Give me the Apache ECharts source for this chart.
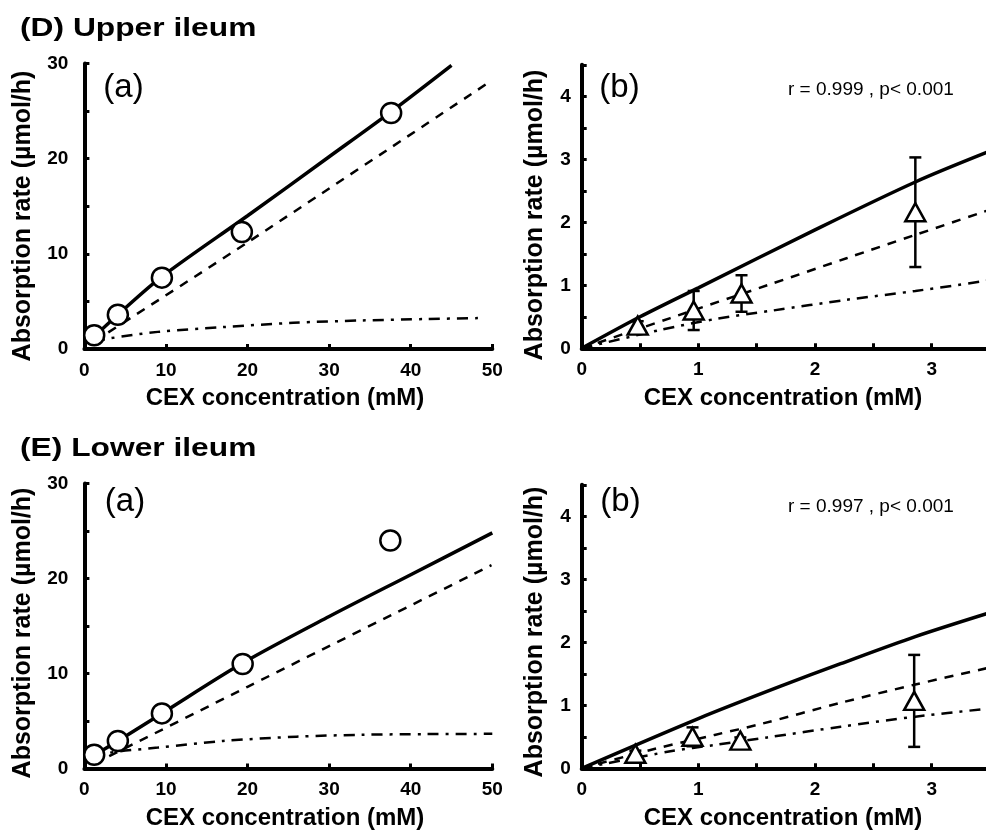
<!DOCTYPE html>
<html>
<head>
<meta charset="utf-8">
<script src="https://cdn.jsdelivr.net/npm/echarts@6/dist/echarts.min.js"></script>
<style>
html,body{margin:0;padding:0;background:#fff;}
#c{width:986px;height:836px;}
</style>
</head>
<body>
<div id="c"></div>
<script>
// ---------- DATA ----------
const titleD = '(D) Upper ileum';
const titleE = '(E) Lower ileum';
const yName = 'Absorption rate (µmol/h)';
const xName = 'CEX concentration (mM)';
const statD = 'r = 0.999 , p< 0.001';
const statE = 'r = 0.997 , p< 0.001';

// (D)(a) upper ileum, full range
const dA_x = [1.2, 4.1, 9.5, 19.3, 37.6];
const dA_y = [1.45, 3.6, 7.5, 12.3, 24.8];
const dA_solid = [[1.2,1.3],[4.1,3.6],[9.5,7.6],[20,14.0],[30,20.2],[37.7,25.0],[45,29.8]];
const dA_dashed = [[1.2,0.8],[20,11.2],[49.2,27.8]];
const dA_dashdot = [[1.2,0.7],[3,1.1],[9,1.8],[17,2.3],[25.6,2.75],[34,3.0],[42,3.15],[48.3,3.25]];

// (D)(b) upper ileum, low range
const dB_x = [0.48, 0.96, 1.37, 2.86];
const dB_y = [0.36, 0.6, 0.87, 2.16];
const dB_err = [0.07, 0.31, 0.29, 0.87];
const dB_solid = [[0,0],[0.5,0.5],[1,0.96],[2,1.88],[2.86,2.64],[3.5,3.13]];
const dB_dashed = [[0,0],[0.76,0.48],[1.59,1.0],[2.27,1.43],[2.86,1.8],[3.5,2.2]];
const dB_dashdot = [[0,0],[0.67,0.29],[1.16,0.47],[1.64,0.6],[2.27,0.77],[2.86,0.91],[3.5,1.08]];

// (E)(a) lower ileum, full range
const eA_x = [1.2, 4.1, 9.5, 19.4, 37.5];
const eA_y = [1.45, 2.9, 5.8, 11.0, 24.0];
const eA_solid = [[1.2,1.4],[4.1,2.9],[9.5,5.8],[19.4,11.1],[30,16.0],[40,20.4],[50,24.8]];
const eA_dashed = [[1.2,0.5],[20,8.6],[49.9,21.4]];
const eA_dashdot = [[1.2,0.9],[2.7,1.6],[9,2.2],[17,2.9],[26,3.35],[34,3.55],[42,3.62],[50,3.65]];

// (E)(b) lower ileum, low range
const eB_x = [0.46, 0.95, 1.36, 2.85];
const eB_y = [0.23, 0.5, 0.44, 1.07];
const eB_err = [0.05, 0.15, 0.05, 0.73];
const eB_solid = [[0,0],[1,0.79],[1.7,1.3],[2.22,1.66],[2.86,2.09],[3.5,2.47]];
const eB_dashed = [[0,0],[0.63,0.31],[1.14,0.53],[1.55,0.71],[2.22,1.04],[2.86,1.33],[3.5,1.6]];
const eB_dashdot = [[0,0],[0.76,0.27],[1.14,0.37],[1.59,0.49],[2.22,0.66],[2.86,0.82],[3.5,0.95]];

// axis ranges / ticks
const xA = {min:0, max:50, interval:10};
const yA = {min:0, max:30, interval:5, labelStep:10};
const xB = {min:0, max:3.5, interval:0.5, labelStep:1};
const yB = {min:0, max:4.5, interval:0.5, labelStep:1};

// ---------- CHART ----------
const FONT = '"Liberation Sans", Arial, Helvetica, sans-serif';
const chart = echarts.init(document.getElementById('c'), null, {renderer:'canvas'});

const grids = [
  {left:84.4, top:63.5, width:407.9, height:285.5},
  {left:581.7, top:64.8, width:408.3, height:283.5},
  {left:84.4, top:483.5, width:407.9, height:285.0},
  {left:581.7, top:484.8, width:408.3, height:283.5}
].map(g => Object.assign({show:false, containLabel:false, outerBoundsMode:'none'}, g));

function stepFmt(step){
  return function(v){
    const r = v/step;
    return Math.abs(r-Math.round(r))<1e-6 ? String(Math.round(v*1000)/1000) : '';
  };
}
function axisCommon(cfg, margin){
  return {
    type:'value', min:cfg.min, max:cfg.max, interval:cfg.interval,
    splitLine:{show:false},
    axisLine:{show:true, onZero:false, lineStyle:{color:'#000', width:4}},
    axisTick:{show:true, inside:true, length:5, lineStyle:{color:'#000', width:3}},
    axisLabel:{
      show:true, margin:margin, color:'#000', fontFamily:FONT, fontWeight:'bold', fontSize:19,
      showMinLabel:true, showMaxLabel:true,
      formatter: cfg.labelStep ? stepFmt(cfg.labelStep) : (v=>String(v))
    }
  };
}
const xAxes = [
  Object.assign(axisCommon(xA,12),{gridIndex:0}),
  Object.assign(axisCommon(xB,12),{gridIndex:1}),
  Object.assign(axisCommon(xA,12),{gridIndex:2}),
  Object.assign(axisCommon(xB,12),{gridIndex:3})
];
const yAxes = [
  Object.assign(axisCommon(yA,16),{gridIndex:0}),
  Object.assign(axisCommon(yB,11),{gridIndex:1}),
  Object.assign(axisCommon(yA,16),{gridIndex:2}),
  Object.assign(axisCommon(yB,11),{gridIndex:3})
];

const solidStyle = {color:'#000', width:3.5, type:'solid'};
const dashedStyle = {color:'#000', width:2.5, type:[9,8]};
const dashdotStyle = {color:'#000', width:2.5, type:[11,7,3,7]};

function lineSeries(data, style, idx){
  return {type:'line', data:data, xAxisIndex:idx, yAxisIndex:idx, showSymbol:false, symbol:'none',
    smooth:0.3, lineStyle:style, z:2, silent:true, animation:false};
}
function zip(xs, ys){ return xs.map((x,i)=>[x, ys[i]]); }
function zip3(xs, ys, es){ return xs.map((x,i)=>[x, ys[i], es[i]]); }

function circleSeries(xs, ys, idx){
  return {type:'scatter', data:zip(xs,ys), xAxisIndex:idx, yAxisIndex:idx, symbol:'circle', symbolSize:20,
    itemStyle:{color:'#fff', borderColor:'#000', borderWidth:2.5, opacity:1}, z:5, animation:false};
}
function triSeries(xs, ys, idx){
  return {type:'scatter', data:zip(xs,ys), xAxisIndex:idx, yAxisIndex:idx, symbol:'triangle', symbolSize:[20,18],
    itemStyle:{color:'#fff', borderColor:'#000', borderWidth:2.5, opacity:1}, z:5, animation:false};
}
function errSeries(xs, ys, es, idx){
  return {type:'custom', data:zip3(xs,ys,es), xAxisIndex:idx, yAxisIndex:idx, z:4, animation:false,
    encode:{x:0, y:1},
    renderItem:function(params, api){
      const x = api.value(0), y = api.value(1), e = api.value(2);
      const t = api.coord([x, y+e]), b = api.coord([x, y-e]);
      const hw = 6;
      const st = {stroke:'#000', lineWidth:2.5, fill:null};
      return {type:'group', children:[
        {type:'line', shape:{x1:t[0], y1:t[1], x2:b[0], y2:b[1]}, style:st},
        {type:'line', shape:{x1:t[0]-hw, y1:t[1], x2:t[0]+hw, y2:t[1]}, style:st},
        {type:'line', shape:{x1:b[0]-hw, y1:b[1], x2:b[0]+hw, y2:b[1]}, style:st}
      ]};
    }
  };
}

const series = [
  lineSeries(dA_solid, solidStyle, 0), lineSeries(dA_dashed, dashedStyle, 0), lineSeries(dA_dashdot, dashdotStyle, 0),
  circleSeries(dA_x, dA_y, 0),
  lineSeries(dB_solid, solidStyle, 1), lineSeries(dB_dashed, dashedStyle, 1), lineSeries(dB_dashdot, dashdotStyle, 1),
  errSeries(dB_x, dB_y, dB_err, 1), triSeries(dB_x, dB_y, 1),
  lineSeries(eA_solid, solidStyle, 2), lineSeries(eA_dashed, dashedStyle, 2), lineSeries(eA_dashdot, dashdotStyle, 2),
  circleSeries(eA_x, eA_y, 2),
  lineSeries(eB_solid, solidStyle, 3), lineSeries(eB_dashed, dashedStyle, 3), lineSeries(eB_dashdot, dashdotStyle, 3),
  errSeries(eB_x, eB_y, eB_err, 3), triSeries(eB_x, eB_y, 3)
];

function txt(text, x, y, opt){
  opt = opt || {};
  return {type:'text', x:x, y:y, rotation:opt.rotation||0, scaleX:opt.scaleX||1, z:10, silent:true,
    style:{text:text, x:0, y:0, fill:'#000', font:(opt.weight||'normal')+' '+(opt.size||18)+'px '+FONT,
      align:opt.align||'left', verticalAlign:'middle'}};
}
const graphics = [
  txt(titleD, 20, 29, {size:25, weight:'bold', scaleX:1.27}),
  txt(titleE, 20, 449, {size:25, weight:'bold', scaleX:1.27}),
  txt('(a)', 123.5, 88, {size:33, align:'center'}),
  txt('(b)', 619.5, 88, {size:33, align:'center'}),
  txt('(a)', 125, 502, {size:33, align:'center'}),
  txt('(b)', 620.5, 502, {size:33, align:'center'}),
  txt(statD, 788, 90, {size:19}),
  txt(statE, 788, 507, {size:19}),
  txt(yName, 23, 216, {size:25, weight:'bold', align:'center', rotation:Math.PI/2}),
  txt(yName, 535, 215, {size:25, weight:'bold', align:'center', rotation:Math.PI/2}),
  txt(yName, 23, 633, {size:25, weight:'bold', align:'center', rotation:Math.PI/2}),
  txt(yName, 535, 632, {size:25, weight:'bold', align:'center', rotation:Math.PI/2}),
  txt(xName, 285, 398, {size:24, weight:'bold', align:'center'}),
  txt(xName, 783, 398, {size:24, weight:'bold', align:'center'}),
  txt(xName, 285, 818, {size:24, weight:'bold', align:'center'}),
  txt(xName, 783, 818, {size:24, weight:'bold', align:'center'})
];

chart.setOption({
  backgroundColor:'#fff',
  animation:false,
  grid:grids,
  xAxis:xAxes,
  yAxis:yAxes,
  series:series,
  graphic:graphics
});
</script>
</body>
</html>
